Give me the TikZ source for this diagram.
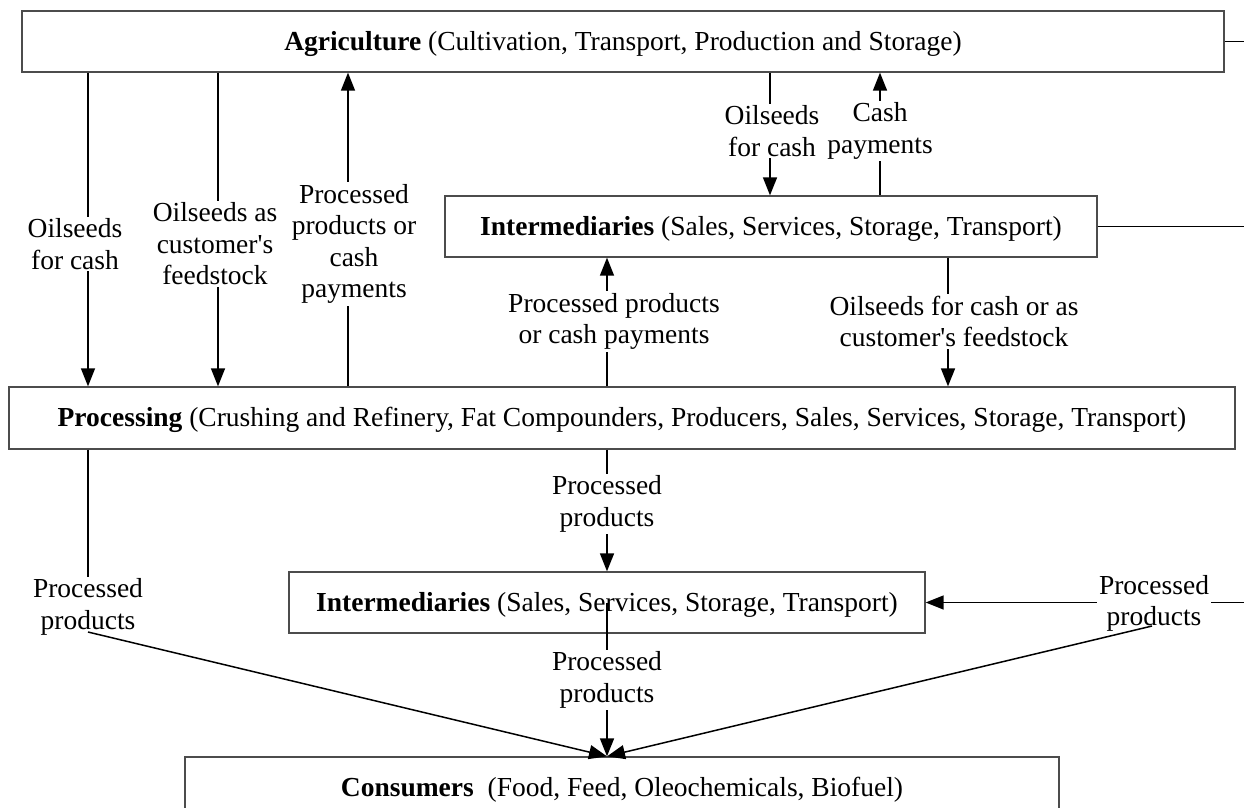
\documentclass[tikz,border=0pt]{standalone}
\usepackage{fontspec}
\setmainfont{Liberation Serif}[Ligatures=TeXOff]
\usetikzlibrary{arrows.meta}
\begin{document}
\begin{tikzpicture}[x=1pt,y=-1pt,
  txt/.style={font=\fontsize{27.5}{31.5}\selectfont},
  box/.style={txt,draw=black!70,line width=1.3pt,minimum height=61pt,inner sep=0pt,text height=19pt,text depth=1.6pt},
  lbl/.style={txt,align=center,fill=white,inner sep=2pt},
  ln/.style={line width=1.5pt},
  arr/.style={line width=1.5pt,-{Triangle[length=18pt,width=14pt]}}]
\useasboundingbox (0,0) rectangle (1244,807);
\clip (0,0) rectangle (1244,807);
% boxes
\node[box,minimum width=1202pt] (agri) at (623,41.5) {\textbf{Agriculture} (Cultivation, Transport, Production and Storage)};
\node[box,minimum width=652pt] (int1) at (771,226.5) {\textbf{Intermediaries} (Sales, Services, Storage, Transport)};
\node[box,minimum width=1226pt,minimum height=62pt] (proc) at (622,418) {\textbf{Processing} (Crushing and Refinery, Fat Compounders, Producers, Sales, Services, Storage, Transport)};
\node[box,minimum width=636pt] (int2) at (607,602.5) {\textbf{Intermediaries} (Sales, Services, Storage, Transport)};
\node[box,minimum width=874pt] (cons) at (622,787.5) {\textbf{Consumers}\ \ (Food, Feed, Oleochemicals, Biofuel)};
% helper coordinates
\coordinate (c1) at (88,0);
\coordinate (c2) at (218,0);
\coordinate (c3) at (348,0);
\coordinate (c4) at (770,0);
\coordinate (c5) at (880,0);
\coordinate (c6) at (607,0);
\coordinate (c7) at (948,0);
\coordinate (eA) at (1244,41.5);
\coordinate (eI) at (1244,226.5);
\coordinate (eR) at (1244,602.5);
\coordinate (k9) at (88,632);
\coordinate (k11) at (1152,626);
% connectors
\draw[arr] (agri.south -| c1) -- (proc.north -| c1);
\draw[arr] (agri.south -| c2) -- (proc.north -| c2);
\draw[arr] (proc.north -| c3) -- (agri.south -| c3);
\draw[arr] (agri.south -| c4) -- (int1.north -| c4);
\draw[arr] (int1.north -| c5) -- (agri.south -| c5);
\draw[arr] (proc.north -| c6) -- (int1.south -| c6);
\draw[arr] (int1.south -| c7) -- (proc.north -| c7);
\draw[arr] (proc.south -| c6) -- (int2.north -| c6);
\draw[arr] (int2.center) -- (cons.north -| c6);
\draw[ln] (agri.east) -- (eA);
\draw[ln] (int1.east) -- (eI);
\draw[arr] (eR) -- (int2.east);
\draw[ln] (proc.south -| c1) -- (k9);
% labels
\node[lbl] (l1) at (75,244) {Oilseeds\\for cash};
\node[lbl] (l2) at (215,244) {Oilseeds as\\customer's\\feedstock};
\node[lbl] (l3) at (354,244) {Processed\\products or\\cash\\payments};
\node[lbl] (l4) at (772,131) {Oilseeds\\for cash};
\node[lbl] (l5) at (880,131) {Cash\\payments};
\node[lbl] (l6) at (614,321.5) {Processed products\\or cash payments};
\node[lbl] (l7) at (954,321.5) {Oilseeds for cash or as\\customer's feedstock};
\node[lbl] (l8) at (607,504) {Processed\\products};
\node[lbl] (l9) at (88,607) {Processed\\products};
\node[lbl] (l10) at (607,680) {Processed\\products};
\node[lbl] (l11) at (1154,603.5) {Processed\\products};
% diagonals
\draw[arr] (k9) -- (cons.north -| c6);
\draw[arr] (k11) -- (cons.north -| c6);
\end{tikzpicture}
\end{document}
